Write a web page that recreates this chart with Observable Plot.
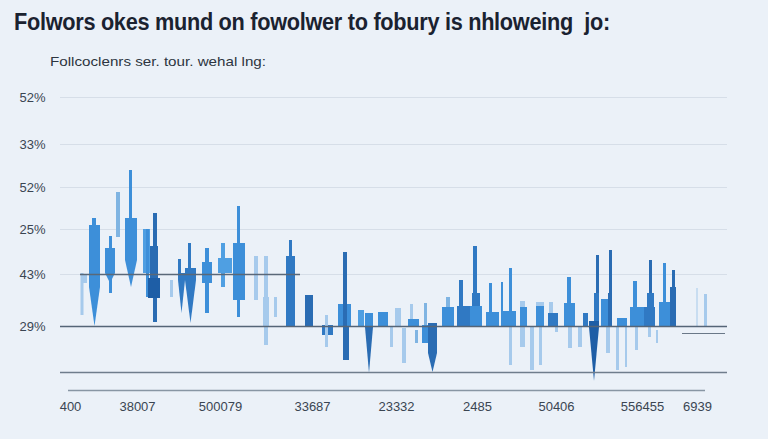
<!DOCTYPE html>
<html><head><meta charset="utf-8">
<script src="https://cdn.jsdelivr.net/npm/d3@7"></script>
<script src="https://cdn.jsdelivr.net/npm/@observablehq/plot@0.6"></script>
<style>
html,body{margin:0;padding:0}
body{background:#ebf1f8;width:768px;height:439px;overflow:hidden;position:relative;font-family:"Liberation Sans",Arial,sans-serif}
#title{position:absolute;left:14px;top:9px;font-size:23px;font-weight:bold;color:#1a2230;white-space:pre;transform-origin:left top;letter-spacing:-0.3px}
#subtitle{position:absolute;left:50px;top:54px;font-size:13.5px;color:#2d3540;white-space:pre;transform-origin:left top}
#chart{position:absolute;left:0;top:80px}
</style></head><body>
<div id="title">Folwors okes mund on fowolwer to fobury is nhloweing  jo:</div>
<div id="subtitle">Follcoclenrs ser. tour. wehal lng:</div>
<div id="chart"></div>
<script>
// y axis: tick values (points above the baseline) and their labels
const yTicks = [0, 52, 97, 139, 182, 229];
const yLabels = ["29%", "43%", "25%", "52%", "33%", "52%"];
// x axis: tick values and labels
const xTicks = [10, 77, 160, 252, 336, 417, 496, 582, 637];
const xLabels = ["400", "38007", "500079", "33687", "23332", "2485", "50406", "556455", "6939"];

// bars: [start, end, low, high, tone]
const bars = [
[20.5,23.5,11,53,"L"],[23,27,43,51,"L"],
[29,40,39,101,"M"],[32,36,101,108,"M"],
[45,55,53,78,"M"],[49,52,33,90,"M"],
[56,60,89,134,"L2"],
[65,77,66,108,"M"],[69,72,108,156,"M"],
[83,90,53,97,"M2"],[86,89,29,97,"M"],
[93,97,4,113,"D"],[90,98,48,80,"D"],[88,100,28,48,"K"],
[110,113,29,46,"L"],
[118,125,46,53,"N"],[118,121,46,67,"N"],
[125,136,46,58,"N"],[128,131,58,83,"N"],
[142,152,43,64,"M"],[145,149,13,78,"M"],
[158,172,53,68,"M2"],[161,165,39,83,"M2"],
[173,185,26,83,"M"],[177,180,9,120,"M"],
[194,198,26,70,"L"],
[204,208,-19,70,"L"],[203,209,-1,29,"L"],
[214,217,9,29,"L"],
[226,235,0,70,"N"],[229,232,70,86,"N"],
[245,253,0,31,"D"],
[262,273,-9,1,"N"],[265,268,-21,11,"L"],
[278,291,-1,22,"M"],[283,287,-1,74,"D"],[283,289,-34,-1,"D"],
[298,304,-1,16,"M2"],
[305,313,-1,13,"M"],
[318,328,-1,14,"M"],
[335,341,-1,18,"L"],[330,333,-21,-1,"L"],[342,346,-37,-2,"L"],
[348,359,-1,7,"M"],[350,353,7,22,"L"],[355,358,-17,-4,"L2"],
[362,368,-17,1,"M"],[364,367,1,23,"L2"],
[368,377,-27,3,"D"],
[382,394,-1,19,"M"],[386,390,19,29,"L2"],
[397,410,-1,20,"N"],[399,403,20,46,"N"],
[410,422,-1,20,"M"],[412,420,20,33,"N"],[413,417,33,80,"N"],
[426,439,-1,14,"M"],[429,432,14,43,"M"],
[441,456,-1,15,"M"],[441,443,15,44,"M"],[449,452,15,58,"M"],[449,452,-39,-1,"L"],
[460,467,-1,19,"M"],[460,465,19,25,"L"],[460,465,-21,-1,"L"],
[470,474,-44,-1,"L"],
[476,484,-1,20,"M"],[476,484,20,24,"L"],[479,482,-39,-1,"L"],
[488,498,-1,13,"N"],[489,493,13,24,"L"],[495,498,-6,-1,"L"],
[504,515,-1,23,"M"],[507,511,23,49,"M"],[508,512,-22,-1,"L"],
[518,522,-21,-1,"L"],
[523,528,-1,13,"N"],
[529,539,-1,5,"K"],[534,539,5,33,"N"],[536,539,33,71,"D"],
[541,548,-1,27,"M"],
[548,552,-1,33,"D"],[549,552,33,76,"D"],[546,550,-27,-1,"L"],
[556,559,-44,-1,"L"],
[557,567,-1,8,"M"],[565,567,-41,-1,"L"],
[570,584,-1,19,"M"],[573,577,19,45,"M"],[575,578,-24,-1,"L"],
[584,595,-1,19,"N"],[587,594,19,33,"N"],[589,592,33,66,"D"],[588,591,-11,-1,"L"],[596,598,-17,-4,"L"],
[599,610,-1,24,"M"],[603,606,24,63,"M"],
[610,616,-1,39,"D"],[612,615,39,56,"D"],
[636,638,-1,38,"XL"],
[644,647,-1,32,"L"]
];

// tapered spikes: [start, end, base, tip, tone]
const spikes = [
[29,40,39,0,"M"],
[45,55,53,43,"M"],
[65,77,66,39,"M"],
[118,125,46,13,"N"],
[125,136,46,3,"N"],
[305,313,-1,-47,"D"],
[368,377,-27,-46,"D"],
[529,539,-1,-55,"K"]
];

// reference lines: [value, from, to]
const refLines = [[0,0,667],[52,20,240],[-46,0,667],[-64,8,645],[-7,622,665]];

const tones = ["XL","L","L2","M2","M","N","D","K"];
const toneColors = ["#c8ddf1","#a6caec","#7fb4e2","#4f9fe2","#3d8fd9","#3079c3","#2a6cb3","#1e5ea6"];
const lineColors = ["#556577","#5a6878","#6f7d8c","#8896a4","#6a7888"];
const lineWidths = [1.6,1.4,1.5,1.3,1];

const barRows = bars.map(([x1,x2,lo,hi,tone]) => ({x1,x2,lo,hi,tone}));
const spikeRows = spikes.flatMap(([x1,x2,base,tip,tone],id) => [
  {id,x:x1,y1:base,y2:base,tone},
  {id,x:(x1+x2)/2,y1:base,y2:tip,tone},
  {id,x:x2,y1:base,y2:base,tone}
]);
const lineRows = refLines.map(([y,x1,x2],i) => ({y,x1,x2,i}));
const yMap = new Map(yTicks.map((v,i)=>[v,yLabels[i]]));
const xMap = new Map(xTicks.map((v,i)=>[v,xLabels[i]]));

const chart = Plot.plot({
  width:768, height:359,
  marginLeft:60, marginRight:41, marginTop:17, marginBottom:49,
  x:{domain:[0,667]},
  y:{domain:[-64,229]},
  color:{domain:tones, range:toneColors},
  style:{background:"transparent", fontFamily:"'Liberation Sans', Arial, sans-serif", fontSize:"13px", color:"#3a4552"},
  marks:[
    Plot.ruleY(yTicks.slice(1), {stroke:"#d6dee8", strokeWidth:1}),
    Plot.rect(barRows, {x1:"x1", x2:"x2", y1:"lo", y2:"hi", fill:"tone"}),
    Plot.areaY(spikeRows, {x:"x", y1:"y1", y2:"y2", z:"id", fill:"tone"}),
    Plot.ruleY(lineRows, {y:"y", x1:"x1", x2:"x2", stroke:d=>lineColors[d.i], strokeWidth:d=>lineWidths[d.i]}),
    Plot.axisY({ticks:yTicks, tickFormat:d=>yMap.get(d), tickSize:0, tickPadding:15, label:null, fontSize:13}),
    Plot.axisX({ticks:xTicks, tickFormat:d=>xMap.get(d), tickSize:0, tickPadding:11, label:null, fontSize:13})
  ]
});
document.getElementById("chart").appendChild(chart);

function fit(id, target){
  const el = document.getElementById(id);
  const w = el.getBoundingClientRect().width;
  el.style.transform = `scaleX(${target/w})`;
}
fit("title", 596);
fit("subtitle", 216);
</script>
</body></html>
